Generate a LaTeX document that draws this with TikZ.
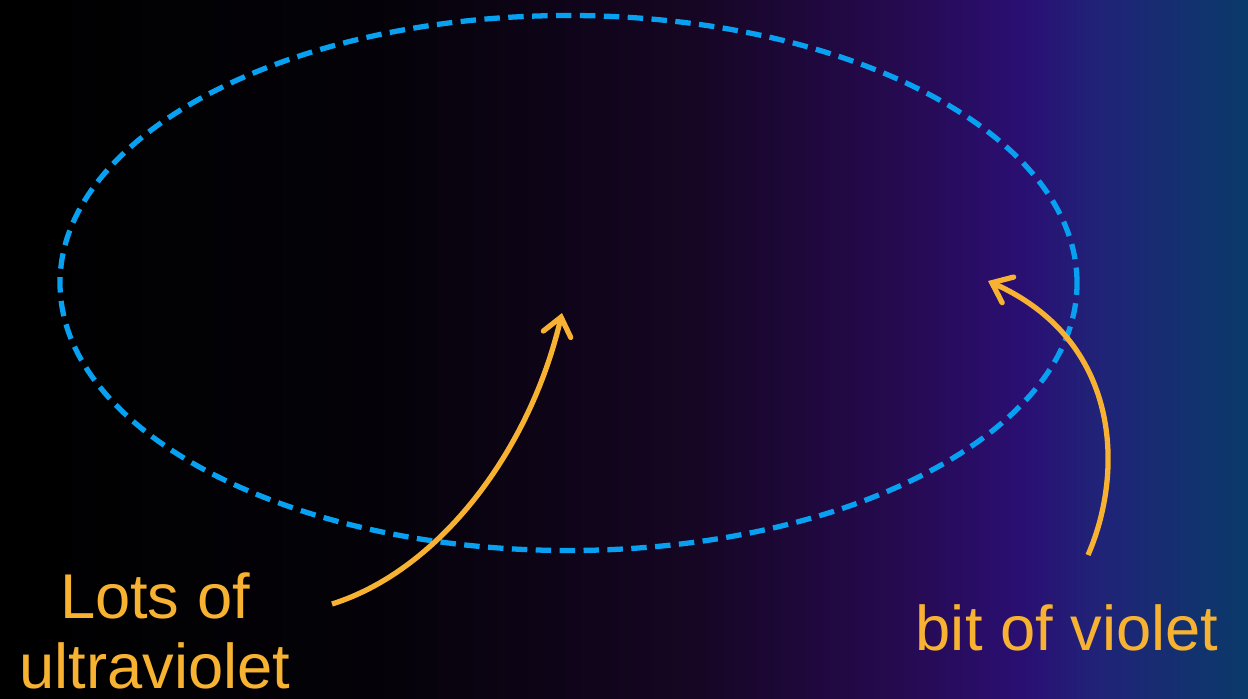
\documentclass[tikz,border=0pt]{standalone}
\usepackage{fontspec}
\setmainfont{Liberation Sans}
\usetikzlibrary{arrows.meta}
\definecolor{uvorange}{RGB}{247,178,50}
\definecolor{ringblue}{RGB}{8,160,240}
\definecolor{bgA}{RGB}{4,2,8}
\definecolor{bgB}{RGB}{22,6,36}
\definecolor{bgC}{RGB}{38,10,80}
\definecolor{bgD}{RGB}{42,15,115}
\definecolor{bgE}{RGB}{32,35,120}
\definecolor{bgF}{RGB}{10,58,105}
% the path covers 25bp..75bp of the shading
\pgfdeclarehorizontalshading{skyshade}{100bp}{color(0bp)=(black); color(25bp)=(black);
  color(40bp)=(bgA); color(53bp)=(bgB); color(61bp)=(bgC); color(66bp)=(bgD);
  color(69bp)=(bgE); color(75bp)=(bgF); color(100bp)=(bgF)}
\begin{document}
\begin{tikzpicture}[
    label text/.style={text=uvorange, font=\fontsize{18}{20}\selectfont, align=center, inner sep=0pt},
    pointer/.style={uvorange, line width=1.5pt, -{Straight Barb[length=5pt,width=8pt,line cap=round]}}]
        \shade[shading=skyshade] (0,0) rectangle (12.48,6.98);
        \useasboundingbox (0,0) rectangle (12.48,6.98);
        \draw[ringblue, line width=1.5pt, dash pattern=on 4.4pt off 2.4pt] (5.685,4.15) ellipse (5.085 and 2.675);
        \node[label text, anchor=south] (lots) at (1.55,0.08) {Lots of\\ultraviolet};
        \node[label text, anchor=base] (bit) at (10.67,0.48) {bit of violet};
        \coordinate (uvfrom) at (3.32,0.94);
        \coordinate (uvto) at (5.62,3.85);
        \coordinate (vfrom) at (10.88,1.43);
        \coordinate (vto) at (9.88,4.17);
        \draw[pointer] (uvfrom) .. controls (4.40,1.28) and (5.30,2.48) .. (uvto);
        \draw[pointer] (vfrom) .. controls (11.25,2.28) and (11.20,3.58) .. (vto);
    \end{tikzpicture}
\end{document}
